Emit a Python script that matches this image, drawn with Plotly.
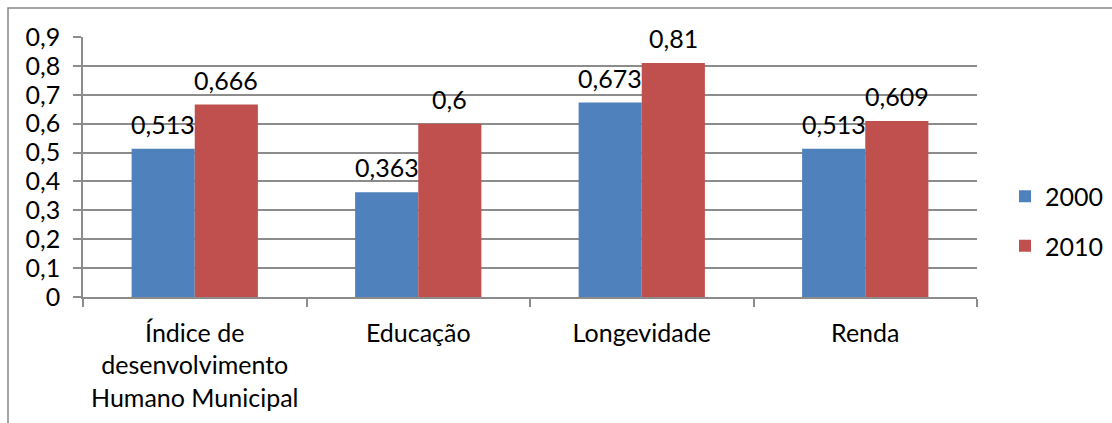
import plotly.graph_objects as go

categories = ["Índice de<br>desenvolvimento<br>Humano Municipal", "Educação", "Longevidade", "Renda"]
series_names = ["2000", "2010"]
values_2000 = [0.513, 0.363, 0.673, 0.513]
values_2010 = [0.666, 0.6, 0.81, 0.609]
y_ticks = [0, 0.1, 0.2, 0.3, 0.4, 0.5, 0.6, 0.7, 0.8, 0.9]

BLUE = "#4F81BD"
RED = "#C0504D"
GRID = "#8C8C8C"
FONT = "Lato"
FS = 25

W, H = 1112, 423
L, R, T, B = 83, 135, 37, 126
pw, ph = W - L - R, H - T - B

def fmt(v):
    s = ("%g" % v)
    return s.replace(".", ",")

def px_y(py):
    return (H - B - py) / ph

def px_x(px):
    return (px - L) / pw

fig = go.Figure()
for name, vals, col, grp in [(series_names[0], values_2000, BLUE, "a"), (series_names[1], values_2010, RED, "b")]:
    fig.add_trace(go.Bar(
        x=categories, y=vals, name=name, marker=dict(color=col, line=dict(width=0)),
        legendgroup=grp,
    ))

# data labels as annotations
bar_px = pw / 4 * 0.565 / 2
for vals, sign in [(values_2000, -1), (values_2010, 1)]:
    for c, v in zip(categories, vals):
        fig.add_annotation(x=c, y=v, text=fmt(v), showarrow=False,
                           xshift=sign * bar_px / 2, yshift=25, yanchor="middle",
                           font=dict(family=FONT, size=FS, color="#000000"))

# chart frame (left and top border)
fig.add_shape(type="path", xref="paper", yref="paper",
              path=f"M {px_x(8)} {px_y(H + 5)} L {px_x(8)} {px_y(8)} L {px_x(W + 5)} {px_y(8)}",
              line=dict(color="#878787", width=1.5))

fig.update_layout(
    width=W, height=H,
    margin=dict(l=L, r=R, t=T, b=B, autoexpand=False),
    paper_bgcolor="white", plot_bgcolor="white",
    separators=",.",
    barmode="group", bargap=0.435, bargroupgap=0,
    font=dict(family=FONT, size=FS, color="#000000"),
    showlegend=True,
    legend=dict(x=px_x(1005), xanchor="left", y=px_y(221),
                yanchor="middle", tracegroupgap=14, font=dict(family=FONT, size=FS),
                bgcolor="rgba(0,0,0,0)"),
    xaxis=dict(showgrid=False, showline=True, linecolor=GRID, linewidth=1.5,
               ticks="outside", tickson="boundaries", ticklen=8, tickcolor=GRID, tickwidth=1.5,
               ticklabelstandoff=13,
               tickfont=dict(family=FONT, size=FS), fixedrange=True),
    yaxis=dict(range=[0, 0.9], tickvals=y_ticks, ticktext=[fmt(v) for v in y_ticks],
               showgrid=True, gridcolor=GRID, gridwidth=1.5,
               showline=True, linecolor=GRID, linewidth=1.5,
               ticks="outside", ticklen=8, tickcolor=GRID, tickwidth=1.5,
               ticklabelstandoff=8, zeroline=False,
               tickfont=dict(family=FONT, size=FS), fixedrange=True),
)

fig.write_html("out.html")
